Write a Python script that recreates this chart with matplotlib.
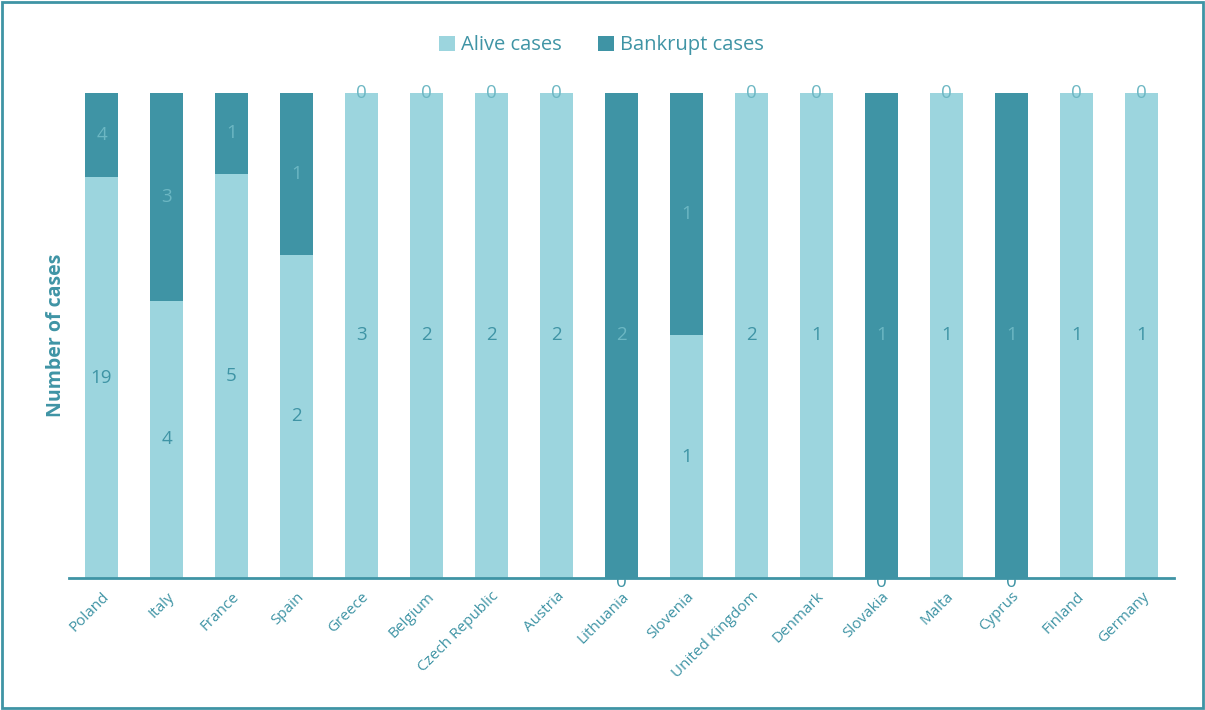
import numpy as np
import matplotlib.pyplot as plt
from matplotlib.patches import Rectangle
from matplotlib.transforms import offset_copy

plt.rcParams['font.family'] = ['Open Sans', 'DejaVu Sans']

countries = ["Poland", "Italy", "France", "Spain", "Greece", "Belgium", "Czech Republic",
             "Austria", "Lithuania", "Slovenia", "United Kingdom", "Denmark", "Slovakia",
             "Malta", "Cyprus", "Finland", "Germany"]
alive = [19, 4, 5, 2, 3, 2, 2, 2, 0, 1, 2, 1, 0, 1, 0, 1, 1]
bankrupt = [4, 3, 1, 1, 0, 0, 0, 0, 2, 1, 0, 0, 1, 0, 1, 0, 0]

c_alive = "#9cd5de"
c_bank = "#3f94a5"
c_text = "#3f94a5"
c_light = "#6cb7c3"

alive = np.array(alive, dtype=float)
bankrupt = np.array(bankrupt, dtype=float)
total = alive + bankrupt
pa = alive / total
pb = bankrupt / total

fig = plt.figure(figsize=(12.05, 7.10), dpi=100)
ax = fig.add_axes([0.0573, 0.186, 0.917, 0.683])

x = np.arange(len(countries))
ax.bar(x, pa, width=0.52, color=c_alive, label="Alive cases", zorder=2)
ax.bar(x, pb, width=0.52, bottom=pa, color=c_bank, label="Bankrupt cases", zorder=2)

low = offset_copy(ax.transData, fig=fig, x=0, y=-4, units="dots")
for i in range(len(countries)):
    tr = low if alive[i] == 0 else ax.transData
    ax.text(x[i], pa[i] / 2, "%d" % alive[i], ha="center", va="center", transform=tr,
            fontsize=13.5, color=c_text, clip_on=False, zorder=3)
    ax.text(x[i], pa[i] + pb[i] / 2, "%d" % bankrupt[i], ha="center", va="center",
            fontsize=13.5, color=c_light, clip_on=False, zorder=3)

ax.set_xlim(-0.5, len(countries) - 0.5)
ax.set_ylim(0, 1)
ax.set_yticks([])
ax.set_xticks(x)
ax.set_xticklabels(countries, rotation=45, ha="right", va="top",
                   rotation_mode="anchor", fontsize=11, color=c_text)
ax.tick_params(axis="x", length=0, pad=8)
for s in ["top", "left", "right"]:
    ax.spines[s].set_visible(False)
ax.spines["bottom"].set_color(c_text)
ax.spines["bottom"].set_linewidth(2)
ax.spines["bottom"].set_zorder(5)

ax.set_ylabel("Number of cases", fontsize=14, fontweight="bold", color=c_text, labelpad=2)

leg = ax.legend(loc="lower center", bbox_to_anchor=(0.482, 1.04), ncol=2, frameon=False,
                fontsize=14.5, handlelength=0.8, handleheight=0.8, handletextpad=0.3,
                columnspacing=1.8)
for t in leg.get_texts():
    t.set_color(c_text)

fig.patches.append(Rectangle((0.002, 0.003), 0.996, 0.994, transform=fig.transFigure,
                             fill=False, edgecolor=c_text, linewidth=2))

fig.savefig("out.png", dpi=100)
